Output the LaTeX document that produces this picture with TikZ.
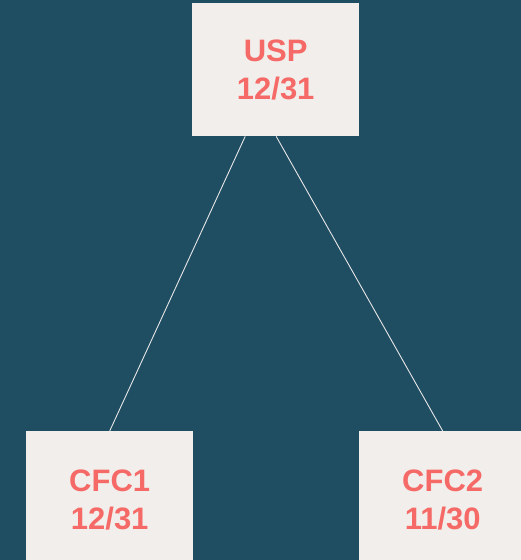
\documentclass[tikz,border=0pt]{standalone}
\usepackage{fontspec}
\setmainfont{Liberation Sans}
\usetikzlibrary{calc}
\definecolor{bgteal}{HTML}{1F4E63}
\definecolor{boxfill}{HTML}{F2EEEB}
\definecolor{coral}{HTML}{F56A67}
\definecolor{linkgray}{HTML}{E6E6E6}
\tikzset{
  unitbox/.style={fill=boxfill, draw=none, minimum width=167pt, minimum height=133pt,
    inner sep=0pt, font=\bfseries\fontsize{31}{38}\selectfont, text=coral,
    align=center, anchor=north west, text depth=0pt},
  link/.style={draw=linkgray, line width=0.9pt}
}
\begin{document}
\begin{tikzpicture}[x=1pt,y=-1pt]
  \useasboundingbox (0,0) rectangle (521,560);
  \fill[bgteal] (0,0) rectangle (521,560);
  \clip (0,0) rectangle (521,560);
  % organisation units
  \node[unitbox] (usp) at (192,3) {USP\\12/31};
  \node[unitbox, minimum height=136pt] (cfc1) at (26,431) {CFC1\\12/31};
  \node[unitbox, minimum height=136pt] (cfc2) at (359,431) {CFC2\\11/30};
  % reporting links
  \draw[link] ($(usp.south)+(-30.5,0)$) -- (cfc1.north);
  \draw[link] ($(usp.south)+(0.5,0)$) -- (cfc2.north);
\end{tikzpicture}
\end{document}
